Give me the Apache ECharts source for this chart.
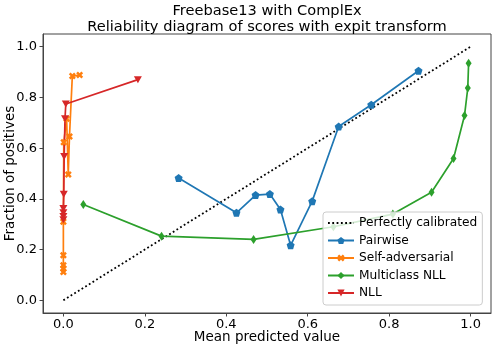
<!DOCTYPE html>
<html>
<head>
<meta charset="utf-8">
<script src="https://cdn.jsdelivr.net/npm/echarts@6/dist/echarts.min.js"></script>
<style>
  html, body { margin: 0; padding: 0; background: #fff; }
  #chart { width: 500px; height: 345px; }
</style>
</head>
<body>
<div id="chart"></div>
<script>
  // values
  const tickValues = [0, 0.2, 0.4, 0.6, 0.8, 1.0]

  const diagX = [0, 1]
  const diagY = [0, 1]

  const pairwiseX = [0.283, 0.425, 0.472, 0.507, 0.533, 0.558, 0.611, 0.676, 0.756, 0.872]
  const pairwiseY = [0.482, 0.345, 0.415, 0.419, 0.358, 0.217, 0.391, 0.685, 0.771, 0.905]

  const selfAdvX = [0, 0, 0, 0, 0, 0.001, 0.008, 0.012, 0.015, 0.022, 0.04]
  const selfAdvY = [0.112, 0.125, 0.138, 0.178, 0.31, 0.623, 0.716, 0.496, 0.646, 0.884, 0.888]

  const multiX = [0.049, 0.241, 0.467, 0.663, 0.809, 0.904, 0.958, 0.985, 0.993, 0.995]
  const multiY = [0.378, 0.253, 0.240, 0.290, 0.340, 0.426, 0.559, 0.729, 0.837, 0.935]

  const nllX = [0, 0, 0, 0, 0.001, 0.002, 0.004, 0.006, 0.183]
  const nllY = [0.318, 0.33, 0.345, 0.362, 0.418, 0.567, 0.716, 0.774, 0.87]

  const zip = (xs, ys) => xs.map((x, i) => [x, ys[i]])

  const pentagon = 'path://M0,-1 L0.951,-0.309 L0.588,0.809 L-0.588,0.809 L-0.951,-0.309 Z'
  const filledX = 'path://M-1,-0.5 L-0.5,-1 L0,-0.5 L0.5,-1 L1,-0.5 L0.5,0 L1,0.5 L0.5,1 L0,0.5 L-0.5,1 L-1,0.5 L-0.5,0 Z'
  const thinDiamond = 'path://M0,-1 L0.6,0 L0,1 L-0.6,0 Z'
  const triDown = 'path://M-1,-1 L1,-1 L0,1 Z'

  const font = 'DejaVu Sans'

  function lineSeries(name, data, color, symbol, size) {
    return {
      name: name,
      type: 'line',
      data: data,
      symbol: symbol,
      symbolSize: size,
      showSymbol: true,
      itemStyle: { color: color },
      lineStyle: { color: color, width: 1.7 },
      emphasis: { disabled: true }
    }
  }

  const chart = echarts.init(document.getElementById('chart'))
  chart.setOption({
    animation: false,
    textStyle: { fontFamily: font },
    title: {
      text: 'Freebase13 with ComplEx\nReliability diagram of scores with expit transform',
      left: 267,
      top: 3,
      padding: 0,
      textAlign: 'center',
      textStyle: {
        fontFamily: font,
        fontSize: 14.6,
        lineHeight: 16,
        fontWeight: 'normal',
        color: '#000'
      }
    },
    grid: {
      left: 43,
      right: 9,
      top: 34,
      bottom: 32,
      outerBoundsMode: 'none',
      containLabel: false,
      show: true,
      borderColor: '#444',
      borderWidth: 1,
      backgroundColor: 'transparent'
    },
    legend: {
      orient: 'vertical',
      left: 323,
      top: 212,
      itemWidth: 26,
      itemHeight: 9,
      itemGap: 5.5,
      padding: [5, 5, 6, 4],
      backgroundColor: 'rgba(255,255,255,0.8)',
      borderColor: '#ccc',
      borderWidth: 1,
      borderRadius: 3,
      textStyle: { fontFamily: font, fontSize: 12.2, color: '#000' },
      data: ['Perfectly calibrated', 'Pairwise', 'Self-adversarial', 'Multiclass NLL', 'NLL']
    },
    xAxis: {
      type: 'value',
      min: -0.05,
      max: 1.05,
      name: 'Mean predicted value',
      nameLocation: 'middle',
      nameGap: 17,
      nameMoveOverlap: false,
      nameTextStyle: { fontFamily: font, fontSize: 13.5, color: '#000' },
      axisLine: { show: true, onZero: false, lineStyle: { color: '#444' } },
      axisTick: { show: true, length: 3.5, customValues: tickValues, lineStyle: { color: '#444' } },
      axisLabel: {
        customValues: tickValues,
        formatter: v => v.toFixed(1),
        margin: 5,
        fontFamily: font,
        fontSize: 13,
        color: '#000'
      },
      splitLine: { show: false }
    },
    yAxis: {
      type: 'value',
      min: -0.05,
      max: 1.05,
      name: 'Fraction of positives',
      nameLocation: 'middle',
      nameGap: 26,
      nameMoveOverlap: false,
      nameTextStyle: { fontFamily: font, fontSize: 13.5, color: '#000' },
      axisLine: { show: true, onZero: false, lineStyle: { color: '#444' } },
      axisTick: { show: true, length: 3.5, customValues: tickValues, lineStyle: { color: '#444' } },
      axisLabel: {
        customValues: tickValues,
        formatter: v => v.toFixed(1),
        margin: 6,
        fontFamily: font,
        fontSize: 13,
        color: '#000'
      },
      splitLine: { show: false }
    },
    series: [
      {
        name: 'Perfectly calibrated',
        type: 'line',
        data: zip(diagX, diagY),
        symbol: 'none',
        // transparent item colour keeps the legend icon a bare dotted line
        itemStyle: { color: 'rgba(0,0,0,0)' },
        lineStyle: { color: '#000', width: 1.8, type: [1.8, 2.5] },
        emphasis: { disabled: true }
      },
      lineSeries('Pairwise', zip(pairwiseX, pairwiseY), '#1f77b4', pentagon, 8),
      lineSeries('Self-adversarial', zip(selfAdvX, selfAdvY), '#ff7f0e', filledX, 7),
      lineSeries('Multiclass NLL', zip(multiX, multiY), '#2ca02c', thinDiamond, [6, 9]),
      lineSeries('NLL', zip(nllX, nllY), '#d62728', triDown, [8, 7])
    ]
  })
</script>
</body>
</html>
